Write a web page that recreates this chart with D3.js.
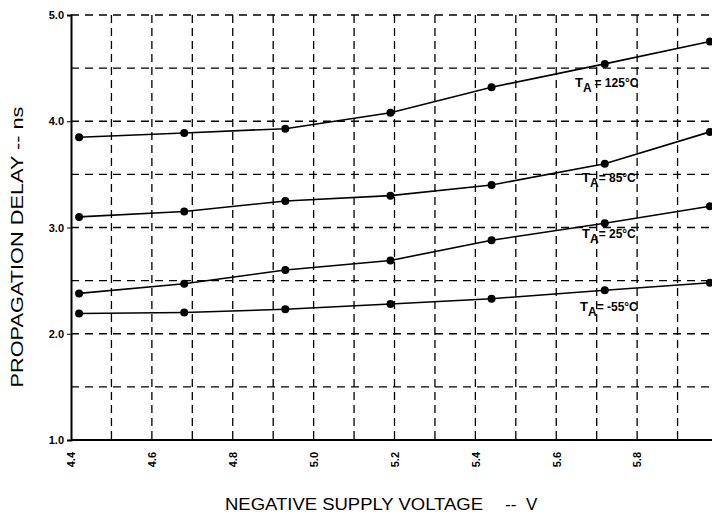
<!DOCTYPE html>
<html>
<head>
<meta charset="utf-8">
<script src="https://cdn.jsdelivr.net/npm/d3@7"></script>
<style>
  body { margin: 0; background: #fff; }
  svg { display: block; font-family: "Liberation Sans", Arial, sans-serif; }
</style>
</head>
<body>
<div id="chart"></div>
<script>
// supply voltage (V) at each measured point
const voltages = [4.42, 4.68, 4.93, 5.19, 5.44, 5.72, 5.98];

// propagation delay (ns) per ambient temperature
const delay125 = [3.85, 3.89, 3.93, 4.08, 4.32, 4.54, 4.75];
const delay85 = [3.10, 3.15, 3.25, 3.30, 3.40, 3.60, 3.90];
const delay25 = [2.38, 2.47, 2.60, 2.69, 2.88, 3.04, 3.20];
const delayM55 = [2.19, 2.20, 2.23, 2.28, 2.33, 2.41, 2.48];

const seriesLabels = ["125°C", "85°C", "25°C", "-55°C"];

const xTicks = [4.4, 4.6, 4.8, 5.0, 5.2, 5.4, 5.6, 5.8];
const yTicks = [1.0, 2.0, 3.0, 4.0, 5.0];

const width = 712, height = 517;
const margin = {left: 71, top: 15, bottom: 77};

const svg = d3.select("#chart").append("svg")
  .attr("width", width)
  .attr("height", height);

const x = d3.scaleLinear().domain([4.4, 6.0]).range([margin.left, 718]);
const y = d3.scaleLinear().domain([1.0, 5.0]).range([height - margin.bottom, margin.top]);

// dashed grid
const grid = svg.append("g").attr("stroke", "#000").attr("stroke-width", 1.3).attr("fill", "none");

d3.range(4.5, 6.0, 0.1).forEach(v => {
  grid.append("line")
    .attr("x1", x(v)).attr("x2", x(v))
    .attr("y1", y(5.0)).attr("y2", y(1.0))
    .attr("stroke-dasharray", "8,5");
});

d3.range(1.5, 5.01, 0.5).forEach(v => {
  grid.append("line")
    .attr("x1", x(4.4)).attr("x2", width)
    .attr("y1", y(v)).attr("y2", y(v))
    .attr("stroke-dasharray", "8,6");
});

// axes
const yAxis = svg.append("g")
  .attr("transform", `translate(${margin.left},0)`)
  .call(d3.axisLeft(y).tickValues(yTicks).tickFormat(d3.format(".1f")).tickSize(4).tickPadding(3));

const xAxis = svg.append("g")
  .attr("transform", `translate(0,${y(1.0)})`)
  .call(d3.axisBottom(x).tickValues(xTicks).tickFormat(d3.format(".1f")).tickSize(0));

[xAxis, yAxis].forEach(a => {
  a.select(".domain").attr("stroke-width", 2);
  a.selectAll("text").attr("font-size", 11).attr("font-weight", "bold").attr("fill", "#000");
});
xAxis.select(".domain").attr("d", `M${x(4.4)},0H${width}`);

xAxis.selectAll("text")
  .attr("transform", "rotate(-90)")
  .attr("text-anchor", "end")
  .attr("dy", "0.35em")
  .attr("x", -12)
  .attr("y", 0);

// curves
const allSeries = [delay125, delay85, delay25, delayM55];
const line = d3.line().x((d, i) => x(voltages[i])).y(d => y(d));

allSeries.forEach(s => {
  svg.append("path")
    .datum(s)
    .attr("fill", "none")
    .attr("stroke", "#000")
    .attr("stroke-width", 1.6)
    .attr("d", line);

  svg.append("g").selectAll("circle")
    .data(s)
    .enter()
      .append("circle")
        .attr("cx", (d, i) => x(voltages[i]))
        .attr("cy", d => y(d))
        .attr("r", 4)
        .attr("fill", "#000");
});

// temperature labels
const labelPos = [[575, 87], [582, 182], [582, 238], [580, 311]];
seriesLabels.forEach((t, i) => {
  const txt = svg.append("text")
    .attr("x", labelPos[i][0])
    .attr("y", labelPos[i][1])
    .attr("font-size", 12)
    .attr("font-weight", "bold");
  txt.append("tspan").attr("font-size", 13).text("T");
  txt.append("tspan").attr("dy", 5).text("A");
  txt.append("tspan").attr("dy", -5).text(i == 0 ? " = " + t : "= " + t);
});

// axis titles
svg.append("text")
  .attr("transform", `translate(23,247) rotate(-90)`)
  .attr("text-anchor", "middle")
  .attr("font-size", 17)
  .attr("textLength", 281)
  .attr("lengthAdjust", "spacingAndGlyphs")
  .text("PROPAGATION DELAY -- ns");

svg.append("text")
  .attr("x", 225)
  .attr("y", 510)
  .attr("font-size", 17)
  .attr("textLength", 258)
  .attr("lengthAdjust", "spacingAndGlyphs")
  .text("NEGATIVE SUPPLY VOLTAGE");

svg.append("text")
  .attr("x", 505)
  .attr("y", 510)
  .attr("font-size", 17)
  .text("--");

svg.append("text")
  .attr("x", 526)
  .attr("y", 510)
  .attr("font-size", 17)
  .text("V");
</script>
</body>
</html>
